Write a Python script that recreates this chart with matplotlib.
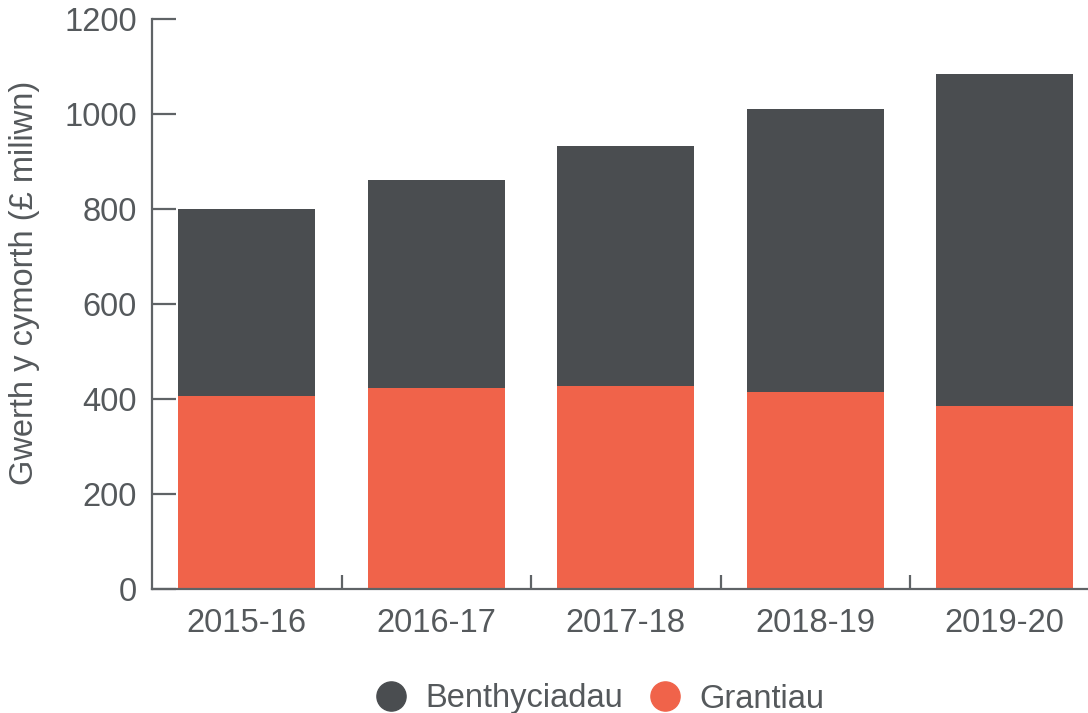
import matplotlib
matplotlib.use("Agg")
import matplotlib.pyplot as plt
from matplotlib.lines import Line2D
import numpy as np

categories = ["2015-16", "2016-17", "2017-18", "2018-19", "2019-20"]
grantiau = [406, 423, 427, 415, 385]
benthyciadau = [394, 438, 506, 596, 699]
yticks = [0, 200, 400, 600, 800, 1000, 1200]

c_loan = "#4a4d50"
c_grant = "#f0634a"
c_text = "#55595c"

plt.rcParams['font.family'] = ['Liberation Sans', 'DejaVu Sans']

W, H = 1088, 713
fig = plt.figure(figsize=(W / 100, H / 100), dpi=100)
ax = fig.add_axes([152 / W, 1 - 589 / H, 947.5 / W, 570 / H])

x = np.arange(len(categories))
ax.bar(x, grantiau, width=0.723, color=c_grant, zorder=2)
ax.bar(x, benthyciadau, width=0.723, bottom=grantiau, color=c_loan, zorder=2)

ax.set_xlim(-0.5, len(categories) - 0.5)
ax.set_ylim(0, 1200)
ax.set_yticks(yticks)
ax.set_xticks(x)
ax.set_xticklabels(categories)
ax.set_xticks(np.arange(0.5, len(categories) - 0.5, 1), minor=True)

for s in ["top", "right"]:
    ax.spines[s].set_visible(False)
for s in ["left", "bottom"]:
    ax.spines[s].set_color("#5f6366")
    ax.spines[s].set_linewidth(1.6)

fs = 23.5
ax.tick_params(axis="y", direction="in", length=17, width=1.6, color="#5f6366",
               labelsize=fs, labelcolor=c_text, pad=11)
ax.tick_params(axis="x", which="major", length=0, labelsize=fs, labelcolor=c_text, pad=14)
ax.tick_params(axis="x", which="minor", direction="in", length=10, width=1.6, color="#5f6366")

fig.text(25 / W, 1 - 283 / H, "Gwerth y cymorth (£ miliwn)", rotation=90,
         ha="center", va="center", fontsize=fs, color=c_text)

handles = [
    Line2D([], [], marker="o", linestyle="none", markersize=21, color=c_loan),
    Line2D([], [], marker="o", linestyle="none", markersize=21, color=c_grant),
]
fig.legend(handles, ["Benthyciadau", "Grantiau"], loc="center",
           bbox_to_anchor=(598 / W, 1 - 699 / H), ncol=2, frameon=False,
           fontsize=fs, labelcolor=c_text, handletextpad=0.45, columnspacing=0.7,
           handlelength=1.2)

fig.savefig("out.png", dpi=100)
